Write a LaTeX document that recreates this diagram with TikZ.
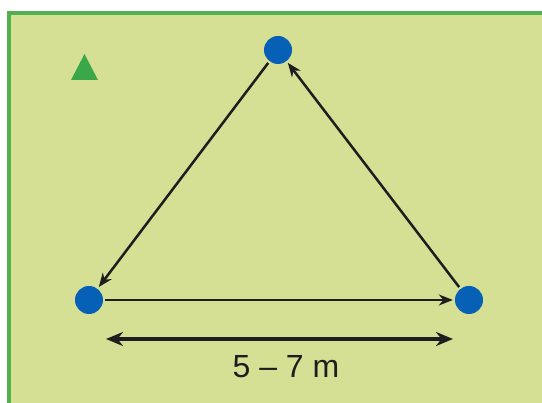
\documentclass[tikz,border=0pt]{standalone}
\usepackage{fontspec}
\setmainfont{Liberation Sans}
\usetikzlibrary{arrows.meta}
\definecolor{field}{RGB}{213,224,148}
\definecolor{fieldedge}{RGB}{82,176,80}
\definecolor{cone}{RGB}{58,168,72}
\definecolor{player}{RGB}{5,96,182}
\definecolor{ink}{RGB}{30,30,30}
\tikzset{
  player/.style={circle,fill=player,draw=none,minimum size=28pt,inner sep=0pt},
  run/.style={draw=ink,line width=2.5pt,-{Stealth[length=14pt,width=11pt]},shorten >=2pt,shorten <=2pt},
  dim/.style={draw=ink,line width=3.6pt,{Stealth[length=17pt,width=14pt]}-{Stealth[length=17pt,width=14pt]}},
}
\begin{document}
\begin{tikzpicture}[x=1pt,y=1pt]
\useasboundingbox (0,0) rectangle (542,403);
\fill[white] (0,0) rectangle (542,403);
\draw[fill=field,draw=fieldedge,line width=4pt] (9,390) rectangle (560,-20);
\fill[cone] (71,323) -- (98,323) -- (84.5,349) -- cycle;
\node[player] (t) at (278,353) {};
\node[player] (l) at (89,103) {};
\node[player] (r) at (469,103) {};
\draw[run] (t) -- (l);
\draw[run] (l) -- (r);
\draw[run] (r) -- (t);
\coordinate (da) at (106,64);
\coordinate (db) at (453,64);
\draw[dim] (da) -- (db);
\node[text=ink,font=\fontsize{32}{32}\selectfont,inner sep=0pt] (lab) at (286,36) {5 – 7 m};
\end{tikzpicture}
\end{document}
